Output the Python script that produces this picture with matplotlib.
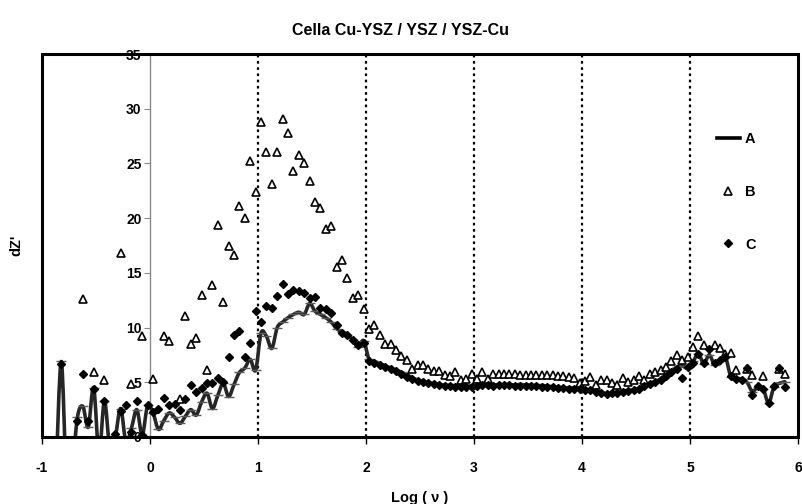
import numpy as np
import matplotlib
matplotlib.use("Agg")
import matplotlib.pyplot as plt
from matplotlib.lines import Line2D
from matplotlib.patches import Rectangle, PathPatch
from matplotlib.path import Path

plt.rcParams['font.family'] = ['Liberation Sans', 'DejaVu Sans']
plt.rcParams['font.weight'] = 'bold'
plt.rcParams['axes.unicode_minus'] = False

# Frequency sweep: 20 points per decade, log10 of frequency
log_nu = np.round(-0.872 + 0.05 * np.arange(136), 3)

nan = np.nan

# Series A (smoothed line)
A = [
    -4, 6.9, -4, -3, 1.8, 2.8, 0.9, 4.5, -1.5, 3.3, -1.0, 0.0, 2.6, -0.5, 0.8, 2.5, 0.2, 2.9,
    2.2, 0.7, 1.5, 2.2, 1.8, 1.25, 1.9, 2.5, 2.0, 3.2, 4.0, 2.6, 3.8, 4.9, 3.7, 4.8, 5.9, 6.3, 7.1, 6.1,
    9.5, 9.2, 8.1, 10.0, 10.5, 10.9, 11.2, 11.4, 11.2, 12.2, 11.5, 11.2, 10.9, 10.5, 9.9, 9.6, 9.3, 8.9, 8.25, 8.8,
    7.1, 6.9, 6.7, 6.5, 6.3, 6.1, 5.9, 5.7, 5.4, 5.2, 5.05, 4.95, 4.9, 4.8, 4.75, 4.7, 4.7, 4.65, 4.6, 4.7,
    4.75, 4.8, 4.8, 4.75, 4.8, 4.8, 4.8, 4.75, 4.8, 4.75, 4.75, 4.7, 4.7, 4.65, 4.6, 4.55, 4.5, 4.5, 4.45, 4.4,
    4.35, 4.3, 4.2, 4.1, 3.95, 4.05, 4.1, 4.2, 4.25, 4.3, 4.4, 4.7, 4.9, 5.05, 5.3, 5.7, 6.0, 6.4, 6.5, 6.3,
    6.9, 7.6, 6.7, 7.5, 6.6, 6.9, 7.3, 5.5, 5.35, 5.3, 5.0, 4.15, 4.6, 4.4, 3.1, 4.6, 4.9, 5.05,
]

# Series B (open triangles)
B = [
    nan, nan, nan, nan, nan, 12.6, nan, 5.9, nan, 5.2, nan, nan, 16.8, nan, 4.8, nan, 9.2, nan,
    5.3, nan, 9.2, 8.8, nan, 3.5, 11.1, 8.5, 9.05, 13.0, 6.1, 13.9, 19.4, 12.3, 17.5, 16.6, 21.1, 20.0, 25.2, 22.4,
    28.8, 26.0, 23.1, 26.0, 29.1, 27.8, 24.3, 25.8, 25.0, 23.4, 21.5, 20.9, 19.0, 19.3, 15.5, 16.2, 14.5, 12.7, 13.0, 11.7,
    9.9, 10.2, 9.3, 8.5, 8.5, 7.95, 7.4, 7.0, 6.2, 6.55, 6.55, 6.2, 6.0, 6.0, 5.7, 5.55, 5.9, 5.2, 5.3, 5.8,
    5.3, 5.9, 5.3, 5.8, 5.75, 5.75, 5.75, 5.75, 5.7, 5.7, 5.7, 5.7, 5.7, 5.7, 5.65, 5.6, 5.55, 5.5, 5.4, 4.9,
    5.1, 5.45, 4.75, 5.2, 5.2, 4.9, 4.75, 5.35, 5.0, 5.2, 5.6, 5.2, 5.75, 5.97, 6.1, 6.4, 6.95, 7.5, 7.0, 7.35,
    8.25, 9.2, 8.4, nan, 8.4, 8.1, 7.55, 7.65, 6.1, nan, 6.2, 5.7, nan, 5.55, nan, nan, 6.25, 5.75,
]

# Series C (filled diamonds)
C = [
    -3, 6.7, -3, -2, 1.5, 5.8, 1.5, 4.4, -0.5, 3.3, -0.5, 0.3, 2.4, 2.9, 0.5, 3.3, 0.2, 2.9,
    2.3, 2.6, 3.6, 2.9, 3.0, 2.5, 3.45, 4.75, 4.15, 4.5, 4.95, 4.95, 5.35, 5.05, 7.3, 9.3, 9.7, 7.35, 8.6, 11.5,
    10.5, 12.0, 11.8, 12.9, 14.0, 13.1, 13.4, 13.3, 13.2, 12.7, 12.75, 11.75, 11.7, 11.3, 10.2, 9.5, 9.3, 8.9, 8.4, 8.6,
    6.9, 6.8, 6.6, 6.4, 6.2, 6.0, 5.8, 5.5, 5.3, 5.1, 5.0, 4.9, 4.85, 4.75, 4.7, 4.65, 4.6, 4.6, 4.55, 4.6,
    4.7, 4.75, 4.75, 4.7, 4.75, 4.75, 4.75, 4.7, 4.7, 4.7, 4.65, 4.65, 4.6, 4.55, 4.55, 4.5, 4.45, 4.4, 4.4, 4.35,
    4.3, 4.25, 4.15, 4.05, 3.95, 4.0, 4.05, 4.15, 4.2, 4.25, 4.35, 4.65, 4.85, 5.0, 5.25, 5.6, 5.95, 6.2, 5.4, 6.4,
    6.8, 7.6, 6.8, 8.0, 6.8, 7.0, 7.3, 5.6, 5.3, 5.2, 6.3, 3.8, 4.7, 4.4, 3.1, 4.7, 6.3, 4.6,
]

x_ticks = [-1, 0, 1, 2, 3, 4, 5, 6]
y_ticks = [0, 5, 10, 15, 20, 25, 30, 35]
grid_x = [1, 2, 3, 4, 5]


def smooth_path(x, y):
    """Cubic Bezier path through the points (spreadsheet-style smoothed line)."""
    x = np.asarray(x, float)
    y = np.asarray(y, float)
    n = len(x)
    verts = [(x[0], y[0])]
    codes = [Path.MOVETO]
    for i in range(n - 1):
        i0 = max(i - 1, 0)
        i3 = min(i + 2, n - 1)
        c1 = (x[i] + (x[i + 1] - x[i0]) / 6, y[i] + (y[i + 1] - y[i0]) / 6)
        c2 = (x[i + 1] - (x[i3] - x[i]) / 6, y[i + 1] - (y[i3] - y[i]) / 6)
        verts += [c1, c2, (x[i + 1], y[i + 1])]
        codes += [Path.CURVE4] * 3
    return Path(verts, codes)


fig = plt.figure(figsize=(8.02, 5.04), dpi=100)
ax = fig.add_axes([42 / 802, 1 - 437 / 504, 756 / 802, 383 / 504])

ax.add_patch(PathPatch(smooth_path(log_nu, A), fill=False, ec='#262626', lw=2.6,
                       capstyle='round', joinstyle='round', zorder=3))
ax.plot(log_nu, A, ls='none', marker='_', ms=7, mec='#5a5a5a', mew=1.0, zorder=3)
ax.plot(log_nu, B, ls='none', marker='^', ms=5.2, mfc='white', mec='black', mew=1.2, zorder=4)
ax.plot(log_nu, C, ls='none', marker='D', ms=3.6, mfc='black', mec='black', zorder=5)

for gx in grid_x:
    ax.axvline(gx, color='black', ls=(0, (1.2, 1.6)), lw=1.6, zorder=1)

ax.set_xlim(-1, 6)
ax.set_ylim(0, 35)

# y axis sits at log(nu) = 0 inside a closed frame
for s in ['top', 'right', 'bottom']:
    ax.spines[s].set_visible(False)
ax.spines['left'].set_position(('data', 0))
ax.spines['left'].set_color('#8a8a8a')
ax.spines['left'].set_linewidth(1.0)
ax.add_patch(Rectangle((0, 0), 1, 1, transform=ax.transAxes, fill=False,
                       ec='black', lw=2.2, clip_on=False, zorder=6))

ax.set_xticks(x_ticks)
ax.set_yticks(y_ticks)
ax.tick_params(axis='x', direction='out', length=5, width=1.0, pad=12, labelsize=10)
ax.tick_params(axis='y', direction='out', length=4, width=0.8, color='#8a8a8a', pad=2, labelsize=10)
for lab in ax.get_xticklabels() + ax.get_yticklabels():
    lab.set_fontweight('bold')

ax.set_xlabel('Log ( ν )', fontsize=10.5, fontweight='bold', labelpad=12)
ax.set_ylabel("dZ'", fontsize=10.5, fontweight='bold', labelpad=0)
ax.yaxis.set_label_coords(-0.024, 0.5)
fig.suptitle('Cella Cu-YSZ / YSZ / YSZ-Cu', fontsize=11.5, fontweight='bold', y=0.955)

handles = [
    Line2D([], [], color='black', lw=2.6),
    Line2D([], [], ls='none', marker='^', ms=5.2, mfc='white', mec='black', mew=1.2),
    Line2D([], [], ls='none', marker='D', ms=3.6, mfc='black', mec='black'),
]
ax.legend(handles, ['A', 'B', 'C'], loc='upper left', bbox_to_anchor=(0.875, 0.83),
          frameon=False, handlelength=1.6, handletextpad=0.35, labelspacing=2.65,
          prop={'weight': 'bold', 'size': 10.5})

fig.savefig('out.png', dpi=100)
